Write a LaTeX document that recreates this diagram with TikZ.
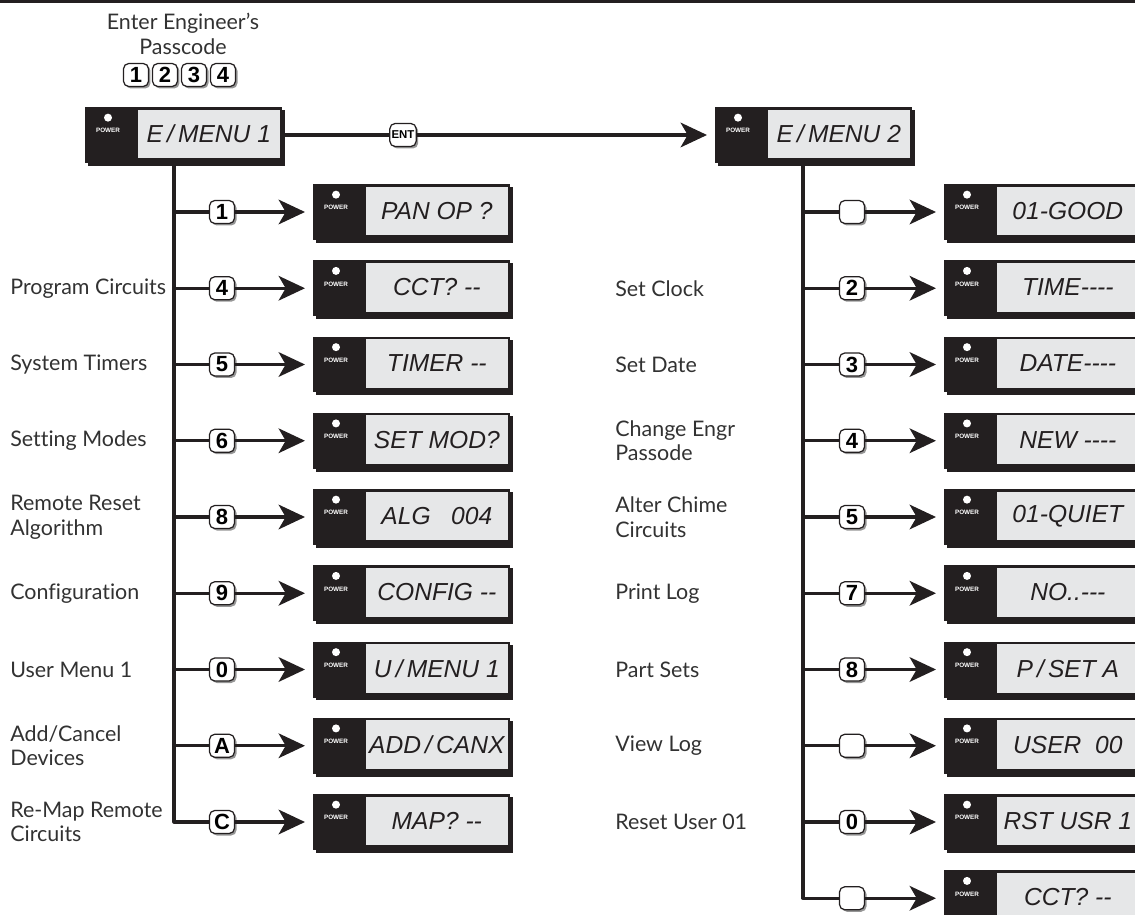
\documentclass[tikz,border=0pt]{standalone}
\usepackage{fontspec}
\setmainfont{Lato}[Ligatures={TeX,CommonOff}]
\newfontfamily\keyfont{Liberation Sans}
\newfontfamily\lcdfont{Liberation Sans}[Ligatures=TeXOff]
\usepackage{tikz}
\usetikzlibrary{calc,positioning,arrows.meta,shadows}
\definecolor{lcdBlack}{RGB}{35,31,32}
\definecolor{lcdGrey}{RGB}{230,231,232}
\definecolor{keyShadow}{RGB}{150,150,150}
\definecolor{textGris}{RGB}{50,50,50}

\tikzset{
  lcdbox/.style={rectangle, fill=lcdBlack, inner sep=0pt,
    minimum width=3.94cm, minimum height=1.12cm,
    drop shadow={shadow xshift=0.06cm, shadow yshift=-0.06cm, fill=lcdBlack, opacity=1}},
  lcdtext/.style={font=\lcdfont\itshape\fontsize{14}{16}\selectfont, text=lcdBlack, inner sep=0pt},
  powertext/.style={font=\keyfont\bfseries\fontsize{3.6}{4}\selectfont, text=white, inner sep=0pt},
  keycap/.style={draw=lcdBlack, line width=0.7pt, fill=white, rounded corners=3pt,
    minimum width=0.5cm, minimum height=0.46cm, inner sep=1pt,
    font=\keyfont\bfseries\fontsize{12.5}{13}\selectfont,
    drop shadow={shadow xshift=0.04cm, shadow yshift=-0.04cm, fill=keyShadow, opacity=1}},
  wire/.style={line width=1.8pt, draw=lcdBlack, line join=round},
  flow/.style={wire, -{Stealth[length=15pt,width=14pt,inset=4pt]}, shorten >=0.16cm},
  menulabel/.style={font=\fontsize{12.2}{14}\selectfont, align=left, anchor=west,
    inner sep=0pt, text=textGris}
}

% display unit: name, left x, centre y, reading
\newcommand{\lcdunit}[4]{%
  \node[lcdbox, anchor=west] (#1) at (#2,#3) {};
  \fill[lcdGrey] ($(#1.north west)+(53,3)$) rectangle ($(#1.south east)+(-3,-5)$);
  \node[lcdtext] at ($(#1.center)+(25,-1)$) {#4};
  \fill[white] ($(#1.north west)+(23,11)$) circle (0.08cm);
  \node[powertext] at ($(#1.north west)+(23,24)$) {POWER};
}

\begin{document}
\begin{tikzpicture}[x=0.02cm, y=-0.02cm]
  \useasboundingbox (0,0) rectangle (1135,915);
  % Top rule
  \draw[line width=1.4pt, lcdBlack] (0,1.5) -- (1135,1.5);

  % Passcode
  \node[menulabel, anchor=center, align=center] (passtext) at (183,34)
    {Enter Engineer's\\Passcode};
  \foreach \k [count=\i] in {1,2,3,4}
    \node[keycap] (pk\k) at (107+29*\i,75) {\k};

  % Main menus
  \lcdunit{menuA}{85}{135}{E\,/\,MENU 1}
  \lcdunit{menuB}{715}{135}{E\,/\,MENU 2}
  \node[keycap, font=\keyfont\bfseries\fontsize{6.5}{7}\selectfont] (entkey) at (403,135) {ENT};
  \draw[wire] (menuA) -- (entkey);
  \draw[flow] (entkey) -- (menuB);

  % Menu 1 branches
  \foreach \kname/\reading/\what [count=\i from 0] in {
      1/{PAN OP ?}/{},
      4/{CCT? --}/{Program Circuits},
      5/{TIMER --}/{System Timers},
      6/{SET MOD?}/{Setting Modes},
      8/{ALG~~~004}/{Remote Reset\\Algorithm},
      9/{CONFIG --}/{Configuration},
      0/{U\,/\,MENU 1}/{User Menu 1},
      A/{ADD\,/\,CANX}/{Add/Cancel\\Devices},
      C/{MAP? --}/{Re-Map Remote\\Circuits}} {
    \pgfmathsetmacro\y{212+76.25*\i}
    \coordinate (lt\i) at (174,\y);
    \node[keycap] (lk\i) at (222,\y) {\kname};
    \lcdunit{ld\i}{313}{\y}{\reading}
    \ifnum\i>0 \node[menulabel] (ll\i) at (10,\y) {\what}; \fi
    \ifnum\i<8 \draw[wire] (lt\i) -- (lk\i); \fi
    \draw[flow] (lk\i) -- (ld\i);
  }
  \draw[wire] (menuA.south -| lt8) -- (lt8) -- (lk8);

  % Menu 2 branches
  \foreach \kname/\reading/\what [count=\i from 0] in {
      {}/{01-GOOD}/{},
      2/{TIME----}/{Set Clock},
      3/{DATE----}/{Set Date},
      4/{NEW ----}/{Change Engr\\Passode},
      5/{01-QUIET}/{Alter Chime\\Circuits},
      7/{NO..---}/{Print Log},
      8/{P\,/\,SET A}/{Part Sets},
      {}/{USER~~00}/{View Log},
      0/{RST USR 1}/{Reset User 01},
      {}/{CCT? --}/{}} {
    \pgfmathsetmacro\y{212+76.25*\i}
    \coordinate (rt\i) at (803,\y);
    \node[keycap] (rk\i) at (852,\y) {\kname};
    \lcdunit{rd\i}{944}{\y}{\reading}
    \ifnum\i>0 \ifnum\i<9 \node[menulabel] (rl\i) at (615,\y) {\what}; \fi \fi
    \ifnum\i<9 \draw[wire] (rt\i) -- (rk\i); \fi
    \draw[flow] (rk\i) -- (rd\i);
  }
  \draw[wire] (menuB.south -| rt9) -- (rt9) -- (rk9);
\end{tikzpicture}
\end{document}
